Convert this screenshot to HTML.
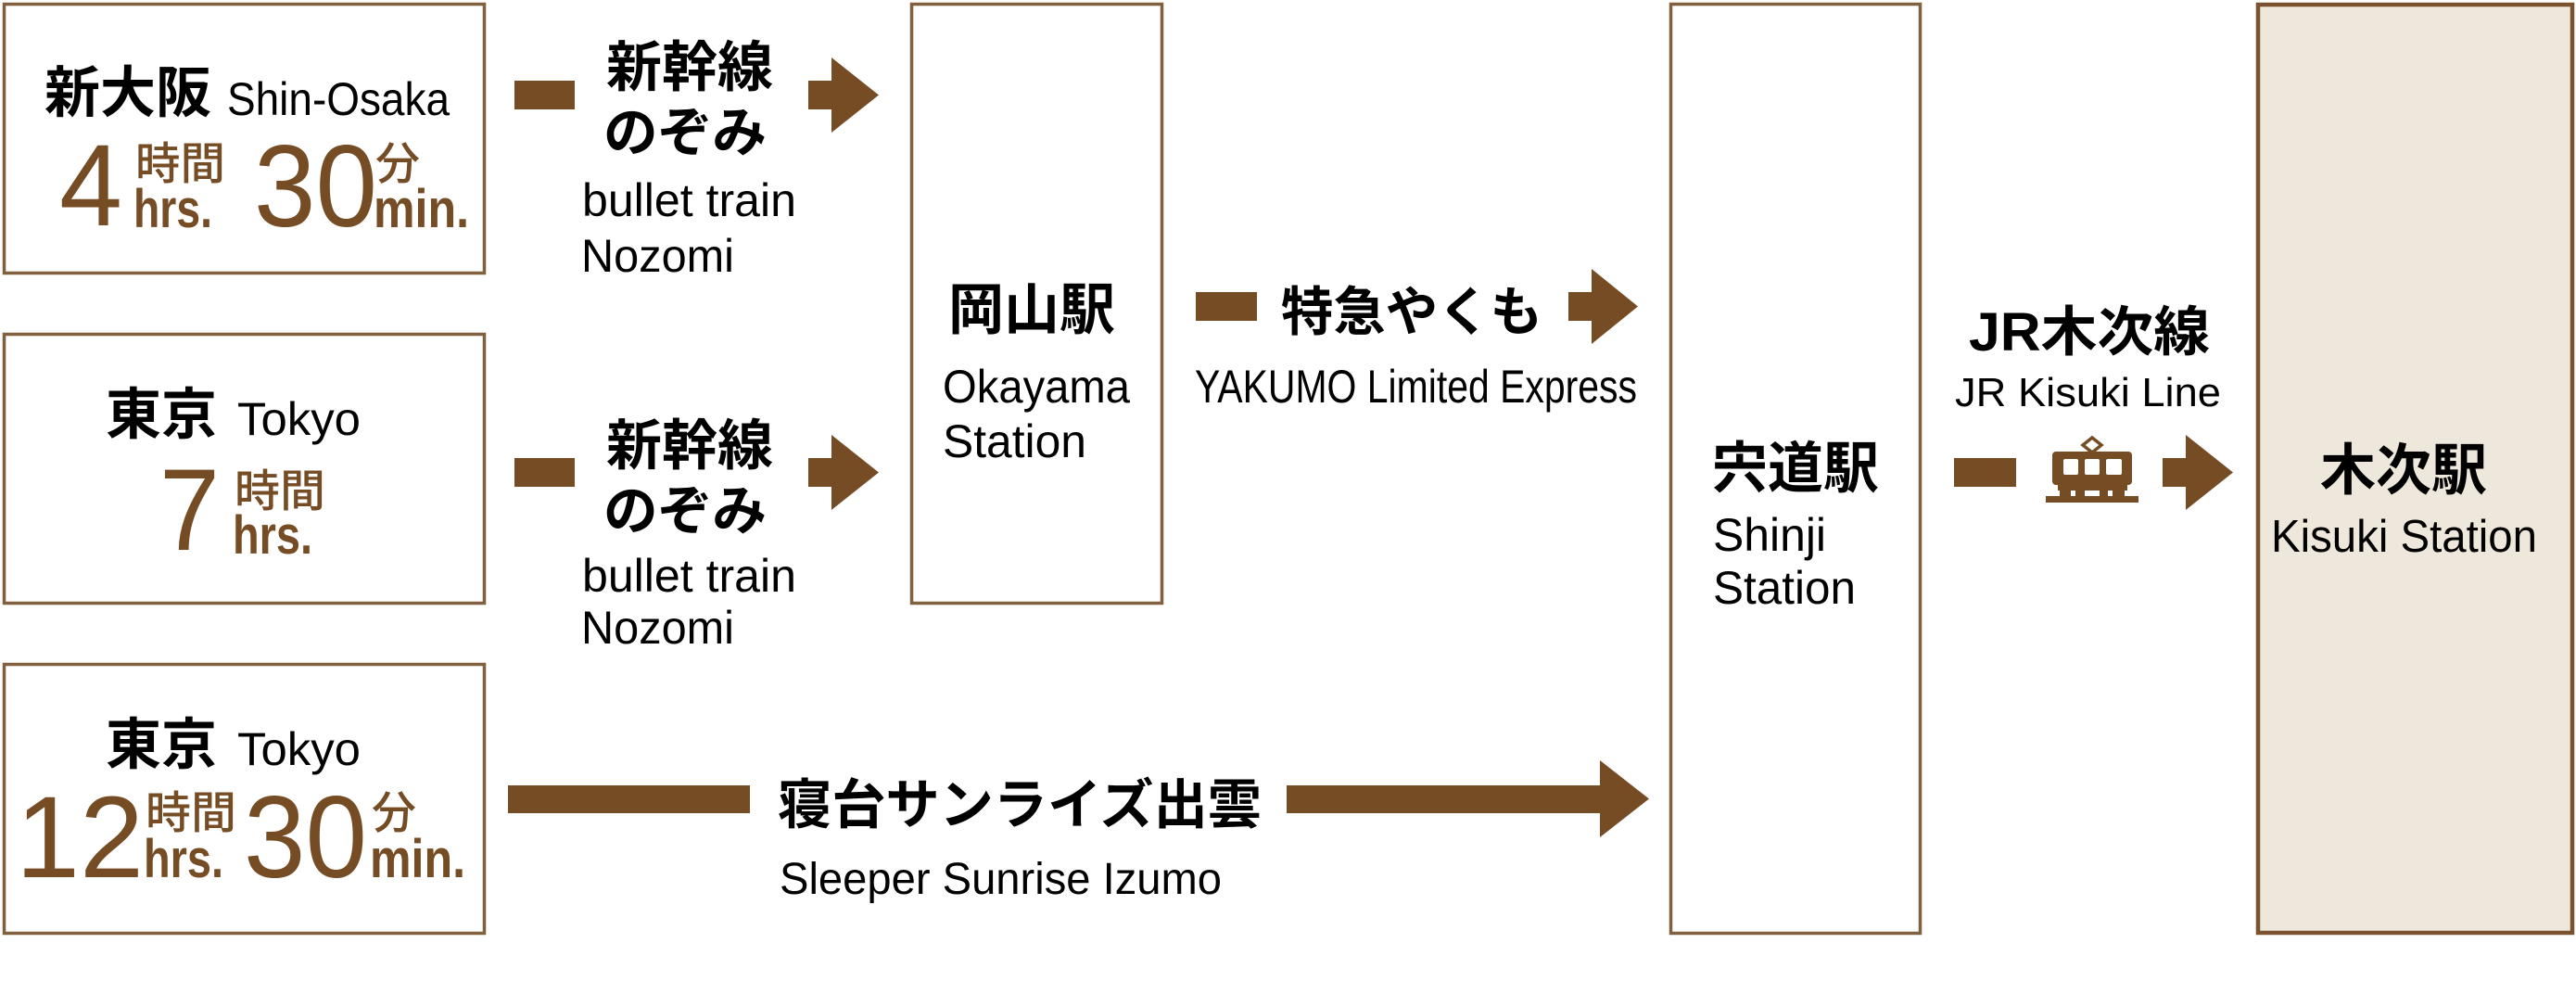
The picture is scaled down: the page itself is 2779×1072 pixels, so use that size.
<!DOCTYPE html>
<html>
<head>
<meta charset="utf-8">
<style>
html,body{margin:0;padding:0;background:#fff;}
svg{display:block;}
.lat{font-family:"Liberation Sans","Noto Sans CJK JP",sans-serif;font-size:50px;fill:#000;}
.jp{font-family:"Liberation Sans","Noto Sans CJK JP",sans-serif;font-weight:bold;font-size:60px;fill:#000;}
.dig{font-family:"Liberation Sans",sans-serif;font-size:125px;fill:#754c24;}
.unit{font-family:"Liberation Sans",sans-serif;font-weight:bold;font-size:58px;fill:#754c24;}
.uj{font-family:"Liberation Sans","Noto Sans CJK JP",sans-serif;font-weight:500;font-size:48px;fill:#754c24;}
</style>
</head>
<body>
<svg width="2779" height="1072" viewBox="0 0 2779 1072" xmlns="http://www.w3.org/2000/svg">
  <rect x="0" y="0" width="2779" height="1072" fill="#fff"/>

  <!-- Boxes -->
  <g fill="#fff" stroke="#80603f" stroke-width="3.5">
    <rect x="4.5" y="4.5" width="518" height="290"/>
    <rect x="4.5" y="360.5" width="518" height="290"/>
    <rect x="4.5" y="716.5" width="518" height="290"/>
    <rect x="983.5" y="4.5" width="270" height="646"/>
    <rect x="1802.5" y="4.5" width="269" height="1002"/>
  </g>
  <rect x="2436" y="5" width="339" height="1001" fill="#eee7db" stroke="#7a5230" stroke-width="4.5"/>

  <!-- Box 1: Shin-Osaka -->
  <text class="jp" x="48" y="121" textLength="180" lengthAdjust="spacingAndGlyphs">新大阪</text>
  <text class="lat" x="245" y="124" textLength="240" lengthAdjust="spacingAndGlyphs">Shin-Osaka</text>
  <text class="dig" x="64" y="243" textLength="68" lengthAdjust="spacingAndGlyphs">4</text>
  <text class="uj" x="146" y="193" textLength="97" lengthAdjust="spacingAndGlyphs">時間</text>
  <text class="unit" x="144" y="245" textLength="85" lengthAdjust="spacingAndGlyphs">hrs.</text>
  <text class="dig" x="274" y="244" textLength="133" lengthAdjust="spacingAndGlyphs">30</text>
  <text class="uj" x="405" y="193" textLength="48" lengthAdjust="spacingAndGlyphs">分</text>
  <text class="unit" x="403" y="245" textLength="103" lengthAdjust="spacingAndGlyphs">min.</text>

  <!-- Box 2: Tokyo 7 hrs -->
  <text class="jp" x="114" y="468" textLength="120" lengthAdjust="spacingAndGlyphs">東京</text>
  <text class="lat" x="256" y="469" textLength="133" lengthAdjust="spacingAndGlyphs">Tokyo</text>
  <text class="dig" x="172" y="593" textLength="65" lengthAdjust="spacingAndGlyphs">7</text>
  <text class="uj" x="253" y="546" textLength="98" lengthAdjust="spacingAndGlyphs">時間</text>
  <text class="unit" x="251" y="597" textLength="86" lengthAdjust="spacingAndGlyphs">hrs.</text>

  <!-- Box 3: Tokyo 12 hrs 30 min -->
  <text class="jp" x="114" y="824" textLength="120" lengthAdjust="spacingAndGlyphs">東京</text>
  <text class="lat" x="256" y="825" textLength="133" lengthAdjust="spacingAndGlyphs">Tokyo</text>
  <text class="dig" x="17" y="946" textLength="138" lengthAdjust="spacingAndGlyphs">12</text>
  <text class="uj" x="157" y="893" textLength="98" lengthAdjust="spacingAndGlyphs">時間</text>
  <text class="unit" x="155" y="946" textLength="86" lengthAdjust="spacingAndGlyphs">hrs.</text>
  <text class="dig" x="263" y="946" textLength="133" lengthAdjust="spacingAndGlyphs">30</text>
  <text class="uj" x="401" y="893" textLength="48" lengthAdjust="spacingAndGlyphs">分</text>
  <text class="unit" x="399" y="946" textLength="103" lengthAdjust="spacingAndGlyphs">min.</text>

  <!-- Connectors (brown) -->
  <g fill="#754c24">
    <!-- row 1 -->
    <rect x="555" y="87" width="65" height="31"/>
    <rect x="872" y="87" width="27" height="31"/>
    <polygon points="897,62 948,102.5 897,143"/>
    <!-- row 2 -->
    <rect x="555" y="494" width="65" height="31"/>
    <rect x="872" y="494" width="27" height="31"/>
    <polygon points="897,469 948,509.5 897,550"/>
    <!-- Yakumo -->
    <rect x="1290" y="315" width="66" height="31"/>
    <rect x="1692" y="315" width="27" height="31"/>
    <polygon points="1717,290 1767,330.5 1717,371"/>
    <!-- Sunrise -->
    <rect x="548" y="847" width="261" height="30"/>
    <rect x="1388" y="847" width="340" height="30"/>
    <polygon points="1726,820 1779,861.5 1726,903"/>
    <!-- Kisuki line -->
    <rect x="2108" y="494" width="67" height="31"/>
    <rect x="2333" y="494" width="27" height="31"/>
    <polygon points="2358,469 2409,509.5 2358,550"/>
  </g>

  <!-- Train icon -->
  <g fill="#754c24">
    <polygon points="2257,472 2267,480 2257,488 2247,480" fill="none" stroke="#754c24" stroke-width="3.5"/>
    <rect x="2214" y="487" width="86" height="36" rx="4"/>
    <rect x="2220" y="520" width="75" height="9"/>
    <rect x="2222" y="528" width="70" height="8"/>
    <rect x="2207" y="535" width="100" height="7"/>
  </g>
  <g fill="#fff">
    <rect x="2226" y="495" width="16" height="17" rx="2"/>
    <rect x="2249" y="495" width="16" height="17" rx="2"/>
    <rect x="2272" y="495" width="17" height="17" rx="2"/>
    <rect x="2234" y="529" width="5" height="6"/>
    <rect x="2249" y="529" width="16" height="6"/>
    <rect x="2274" y="529" width="5" height="6"/>
  </g>

  <!-- Shinkansen labels row 1 -->
  <text class="jp" x="654" y="93" font-size="59" style="font-size:59px" textLength="180" lengthAdjust="spacingAndGlyphs">新幹線</text>
  <text class="jp" x="651" y="163" style="font-size:58px" textLength="176" lengthAdjust="spacingAndGlyphs">のぞみ</text>
  <text class="lat" x="628" y="233" textLength="231" lengthAdjust="spacingAndGlyphs">bullet train</text>
  <text class="lat" x="627" y="293" textLength="165" lengthAdjust="spacingAndGlyphs">Nozomi</text>

  <!-- Shinkansen labels row 2 -->
  <text class="jp" x="654" y="501" style="font-size:59px" textLength="180" lengthAdjust="spacingAndGlyphs">新幹線</text>
  <text class="jp" x="651" y="571" style="font-size:58px" textLength="176" lengthAdjust="spacingAndGlyphs">のぞみ</text>
  <text class="lat" x="628" y="638" textLength="231" lengthAdjust="spacingAndGlyphs">bullet train</text>
  <text class="lat" x="627" y="694" textLength="165" lengthAdjust="spacingAndGlyphs">Nozomi</text>

  <!-- Okayama -->
  <text class="jp" x="1023" y="355" textLength="180" lengthAdjust="spacingAndGlyphs">岡山駅</text>
  <text class="lat" x="1017" y="434" textLength="202" lengthAdjust="spacingAndGlyphs">Okayama</text>
  <text class="lat" x="1017" y="493" textLength="155" lengthAdjust="spacingAndGlyphs">Station</text>

  <!-- Yakumo -->
  <text class="jp" x="1382" y="356" style="font-size:57px" textLength="282" lengthAdjust="spacingAndGlyphs">特急やくも</text>
  <text class="lat" x="1289" y="434" textLength="477" lengthAdjust="spacingAndGlyphs">YAKUMO Limited Express</text>

  <!-- Shinji -->
  <text class="jp" x="1847" y="526" textLength="180" lengthAdjust="spacingAndGlyphs">宍道駅</text>
  <text class="lat" x="1848" y="594" textLength="122" lengthAdjust="spacingAndGlyphs">Shinji</text>
  <text class="lat" x="1848" y="651" textLength="154" lengthAdjust="spacingAndGlyphs">Station</text>

  <!-- JR Kisuki line -->
  <text class="jp" x="2124" y="378" style="font-size:58px" textLength="260" lengthAdjust="spacingAndGlyphs">JR木次線</text>
  <text class="lat" x="2109" y="438" style="font-size:44px" textLength="287" lengthAdjust="spacingAndGlyphs">JR Kisuki Line</text>

  <!-- Kisuki -->
  <text class="jp" x="2503" y="528" textLength="180" lengthAdjust="spacingAndGlyphs">木次駅</text>
  <text class="lat" x="2450" y="595" style="font-size:49px" textLength="287" lengthAdjust="spacingAndGlyphs">Kisuki Station</text>

  <!-- Sunrise Izumo -->
  <text class="jp" x="839" y="888" style="font-size:58px" textLength="522" lengthAdjust="spacingAndGlyphs">寝台サンライズ出雲</text>
  <text class="lat" x="841" y="964" style="font-size:48px" textLength="477" lengthAdjust="spacingAndGlyphs">Sleeper Sunrise Izumo</text>
</svg>
</body>
</html>
